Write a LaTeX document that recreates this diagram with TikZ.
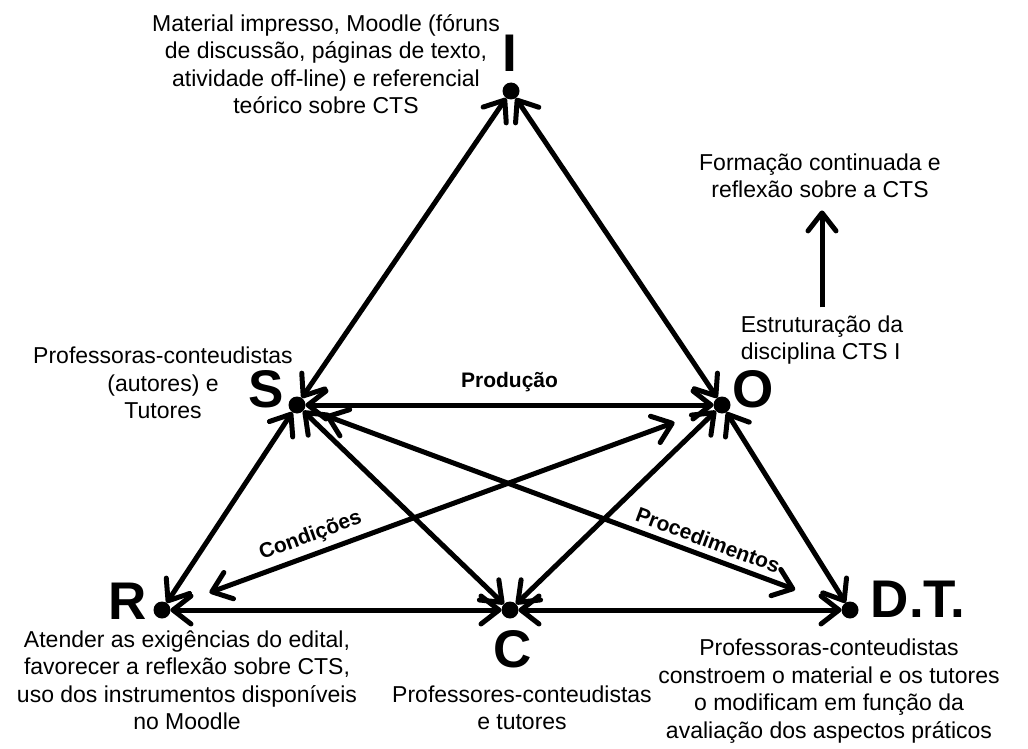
\documentclass[tikz,border=0pt]{standalone}
\usepackage{fontspec}
\setmainfont{Liberation Sans}
\usetikzlibrary{arrows.meta}

\begin{document}
\begin{tikzpicture}[x=1pt,y=-1pt]
    \tikzset{%
      dot/.style={circle, fill=black, inner sep=0pt, outer sep=0pt,
        minimum size=17pt},
      big/.style={inner sep=0pt, font=\fontsize{53}{53}\selectfont\bfseries},
      txt/.style={align=center, inner sep=0pt,
        font=\fontsize{23}{27.5}\selectfont},
      lbl/.style={inner sep=3pt, font=\fontsize{21}{21}\selectfont\bfseries},
      barb/.tip={Straight Barb[length=18pt, width=28pt, round]},
      rel/.style={line width=5pt, barb-barb},
    }
    \useasboundingbox (0,0) rectangle (1028,749);
    % vertices
    \node[dot] (I) at (511,91) {};
    \node[dot] (S) at (297,405) {};
    \node[dot] (O) at (722,405) {};
    \node[dot] (R) at (162,610) {};
    \node[dot] (C) at (510,610) {};
    \node[dot] (DT) at (850,610) {};
    % letters
    \node[big] (Il) at (510,53) {I};
    \node[big] (Sl) at (266,389) {S};
    \node[big] (Ol) at (753,389) {O};
    \node[big] (Rl) at (128,601) {R};
    \node[big] (Cl) at (513,649) {C};
    \node[big] (DTl) at (918,599) {D.T.};
    % texts
    \node[txt] (Itxt) at (326,64) {Material impresso, Moodle (fóruns\\
      de discussão, páginas de texto,\\atividade off-line) e referencial\\
      teórico sobre CTS};
    \node[txt] (Stxt) at (163,383) {Professoras-conteudistas\\(autores) e\\Tutores};
    \node[txt, align=left] (Otxt) at (822,340) {Estruturação da\\disciplina CTS I};
    \node[txt] (Ftxt) at (820,176) {Formação continuada e\\reflexão sobre a CTS};
    \node[txt] (Rtxt) at (187,680) {Atender as exigências do edital,\\
      favorecer a reflexão sobre CTS,\\uso dos instrumentos disponíveis\\
      no Moodle};
    \node[txt] (Ctxt) at (522,708) {Professores-conteudistas\\e tutores};
    \node[txt] (DTtxt) at (829,691) {Professoras-conteudistas\\
      constroem o material e os tutores\\o modificam em função da\\
      avaliação dos aspectos práticos};
    % relations
    \draw[rel] (I) -- (S);
    \draw[rel] (I) -- (O);
    \draw[rel] (S) -- node[lbl, above=8pt] {Produção} (O);
    \draw[rel] (S) -- (R);
    \draw[rel] (S) -- (C);
    \draw[rel, shorten <=22pt, shorten >=50pt] (S) --
      node[lbl, pos=0.74, above=3pt, sloped] {Procedimentos} (DT);
    \draw[rel] (O) -- (C);
    \draw[rel] (O) -- (DT);
    \draw[rel, shorten <=42pt, shorten >=42pt] (R) --
      node[lbl, pos=0.27, above=3pt, sloped] {Condições} (O);
    \draw[rel] (R) -- (C);
    \draw[rel] (C) -- (DT);
    \draw[line width=5pt, -barb, shorten <=8pt, shorten >=12pt]
      (Otxt.north) -- (Otxt.north |- Ftxt.south);
\end{tikzpicture}
\end{document}
